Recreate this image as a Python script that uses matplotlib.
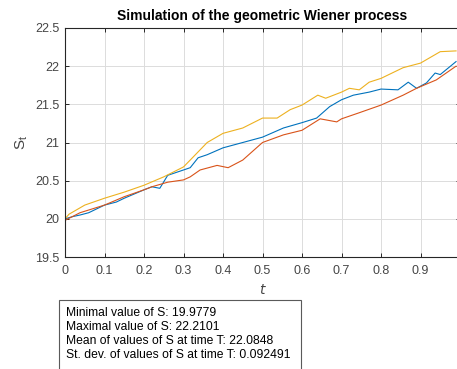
import matplotlib.pyplot as plt

plt.rcParams['font.family'] = ['Liberation Sans', 'DejaVu Sans']

# values
t_blue = [0, 0.02, 0.038, 0.06, 0.1, 0.13, 0.15, 0.2, 0.22, 0.24, 0.26, 0.3, 0.317,
          0.337, 0.36, 0.4, 0.45, 0.5, 0.553, 0.6, 0.637, 0.67, 0.7, 0.73, 0.77,
          0.8, 0.843, 0.869, 0.89, 0.915, 0.937, 0.95, 0.99]
s_blue = [20.00, 20.03, 20.05, 20.08, 20.18, 20.22, 20.27, 20.38, 20.42, 20.40, 20.57,
          20.64, 20.67, 20.80, 20.84, 20.93, 21.00, 21.07, 21.19, 21.26, 21.32, 21.47,
          21.56, 21.62, 21.66, 21.70, 21.69, 21.79, 21.71, 21.78, 21.91, 21.89, 22.06]

t_orange = [0, 0.038, 0.1, 0.15, 0.2, 0.22, 0.26, 0.3, 0.317, 0.342, 0.385, 0.413,
            0.45, 0.5, 0.553, 0.6, 0.646, 0.688, 0.7, 0.745, 0.8, 0.856, 0.89, 0.94, 0.99]
s_orange = [19.98, 20.08, 20.18, 20.29, 20.38, 20.42, 20.48, 20.51, 20.55, 20.64, 20.70,
            20.67, 20.77, 21.00, 21.10, 21.16, 21.31, 21.27, 21.31, 21.39, 21.49, 21.62,
            21.71, 21.82, 22.00]

t_yellow = [0, 0.01, 0.05, 0.1, 0.15, 0.2, 0.25, 0.3, 0.317, 0.36, 0.4, 0.45, 0.5,
            0.537, 0.57, 0.6, 0.64, 0.66, 0.7, 0.72, 0.745, 0.77, 0.8, 0.856, 0.9,
            0.95, 0.99]
s_yellow = [20.00, 20.06, 20.18, 20.27, 20.35, 20.44, 20.55, 20.68, 20.77, 21.00, 21.12,
            21.19, 21.32, 21.32, 21.43, 21.49, 21.62, 21.58, 21.66, 21.71, 21.69, 21.79,
            21.84, 21.98, 22.04, 22.19, 22.20]

xticks = [0, 0.1, 0.2, 0.3, 0.4, 0.5, 0.6, 0.7, 0.8, 0.9]
xticklabels = ['0', '0.1', '0.2', '0.3', '0.4', '0.5', '0.6', '0.7', '0.8', '0.9']
yticks = [19.5, 20, 20.5, 21, 21.5, 22, 22.5]
yticklabels = ['19.5', '20', '20.5', '21', '21.5', '22', '22.5']

info = ['Minimal value of S: 19.9779',
        'Maximal value of S: 22.2101',
        'Mean of values of S at time T: 22.0848',
        'St. dev. of values of S at time T: 0.092491']

axcol = '#262626'
labcol = '#454545'

fig = plt.figure(figsize=(4.57, 3.69), dpi=100)
ax = fig.add_axes([65 / 457, 1 - 257 / 369, 395 / 457, 229 / 369])

ax.plot(t_blue, s_blue, color='#0072BD', lw=0.8)
ax.plot(t_orange, s_orange, color='#D95319', lw=0.8)
ax.plot(t_yellow, s_yellow, color='#EDB120', lw=0.8)

ax.set_xlim(0, 1)
ax.set_ylim(19.5, 22.5)
ax.set_xticks(xticks)
ax.set_xticklabels(xticklabels)
ax.set_yticks(yticks)
ax.set_yticklabels(yticklabels)
ax.grid(True, color='#dcdcdc', lw=0.7)
ax.set_axisbelow(True)
ax.tick_params(direction='in', top=True, right=True, length=3, width=0.7,
               colors=axcol, labelcolor=labcol, labelsize=9)
ax.tick_params(axis='x', pad=6)
ax.tick_params(axis='y', pad=4)
for sp in ax.spines.values():
    sp.set_color(axcol)
    sp.set_linewidth(0.8)

ax.set_title('Simulation of the geometric Wiener process', fontsize=10,
             fontweight='bold', color='black', pad=6)
ax.set_xlabel('$t$', fontsize=10, color=labcol, labelpad=4)
ax.set_ylabel('$\\mathregular{S_t}$', fontsize=11, color=labcol, labelpad=4)

fig.text(66 / 457, 1 - 307 / 369, '\n'.join(info), fontsize=8.7, color='black',
         va='top', ha='left', linespacing=1.22)
box = plt.Rectangle((59 / 457, -0.01), (301 - 59) / 457, 1 - 300 / 369 + 0.01,
                    transform=fig.transFigure, fill=False, ec='#5a5a5a', lw=0.8)
fig.add_artist(box)

fig.savefig('out.png', dpi=100)
